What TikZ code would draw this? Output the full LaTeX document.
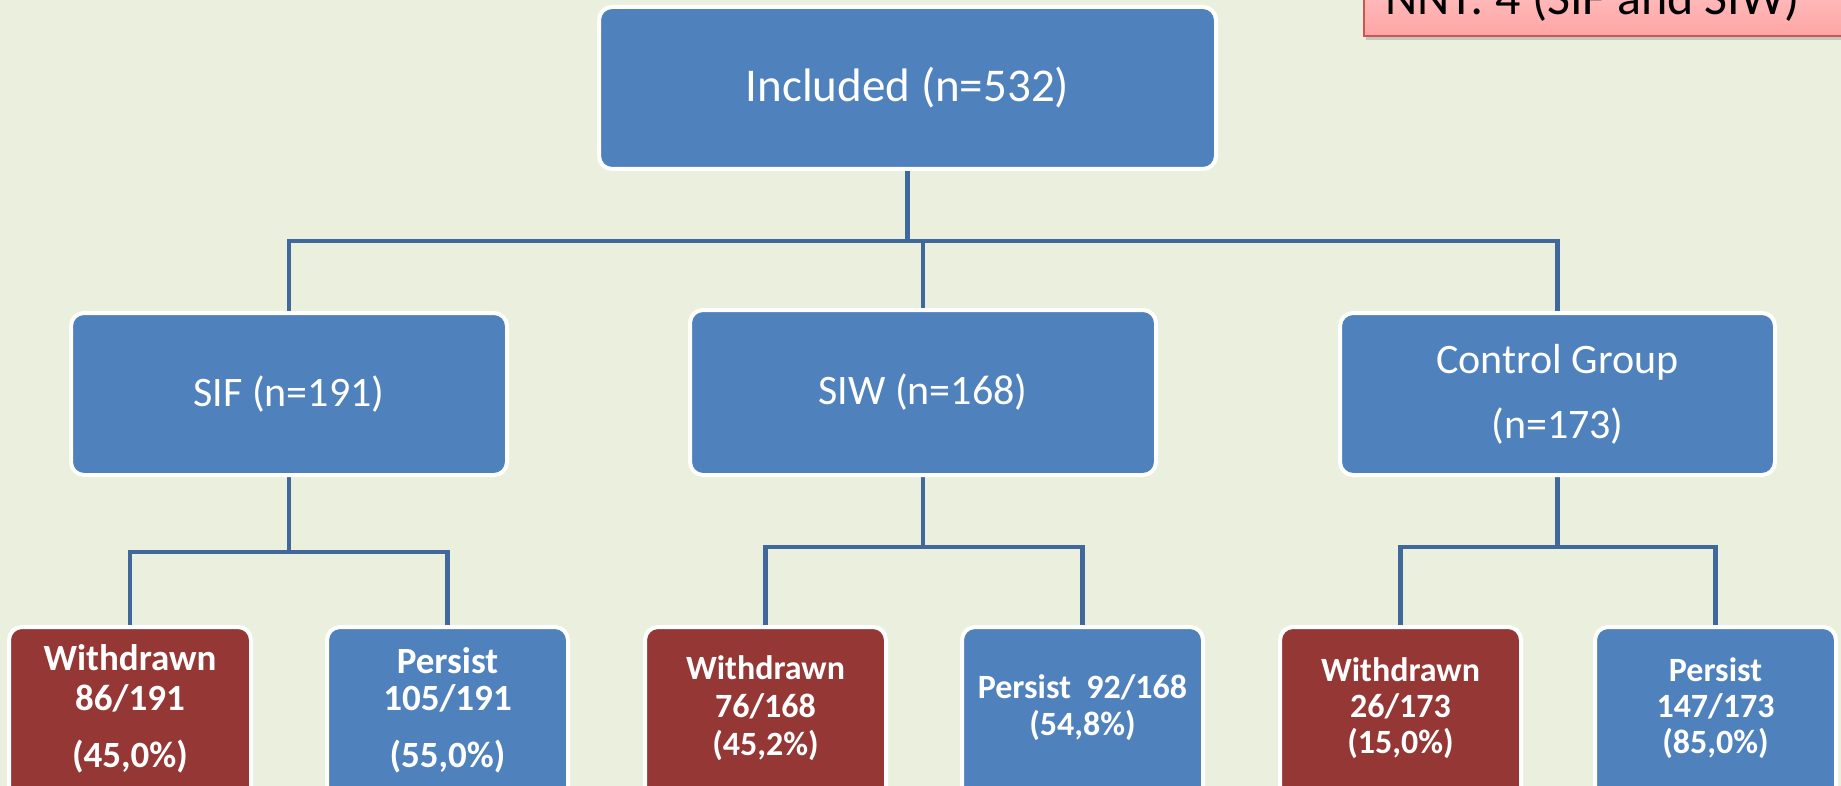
\documentclass[tikz,border=0pt]{standalone}
\usepackage{fontspec}
\setmainfont{Carlito}
\usetikzlibrary{shadows}
\definecolor{bg}{RGB}{235,240,222}
\definecolor{boxblue}{RGB}{79,129,189}
\definecolor{boxred}{RGB}{149,55,53}
\definecolor{conn}{RGB}{65,104,155}
\definecolor{pinktop}{RGB}{255,200,200}
\definecolor{pinkbot}{RGB}{255,165,165}
\definecolor{pinkedge}{RGB}{205,85,82}
\pgfdeclarelayer{bgfill}
\pgfdeclarelayer{links}
\pgfsetlayers{bgfill,links,main}
\begin{document}
\begin{tikzpicture}[x=1pt,y=-1pt,
  box/.style={draw=white, line width=4pt, rounded corners=13pt, inner sep=0pt, text=white, align=center},
  bluebox/.style={box, fill=boxblue},
  redbox/.style={box, fill=boxred},
  link/.style={draw=conn, line width=4.5pt},
  lbl/.style={text=white, align=center, inner sep=0pt, anchor=base},
]
\begin{pgfonlayer}{bgfill}
\fill[bg] (0,0) rectangle (1841,786);
\end{pgfonlayer}
\useasboundingbox (0,0) rectangle (1841,786);

% bus line levels
\coordinate (bus) at (0,241);
\coordinate (busA) at (0,552);
\coordinate (busB) at (0,547);

% boxes
\node[bluebox, minimum width=617pt, minimum height=162pt, font=\fontsize{47}{56}\selectfont] (top) at (907.5,88) {Included (n=532)};
\node[bluebox, minimum width=436pt, minimum height=162pt, font=\fontsize{42}{50}\selectfont] (sif) at (289,394) {SIF (n=191)};
\node[bluebox, minimum width=466pt, minimum height=165pt, font=\fontsize{42}{50}\selectfont] (siw) at (923,392.5) {SIW (n=168)};
\node[bluebox, minimum width=435pt, minimum height=162pt, font=\fontsize{42}{65}\selectfont] (ctl) at (1557.5,394) {Control Group\\(n=173)};

\node[redbox, minimum width=242pt, minimum height=180pt] (w1) at (130,717) {};
\node[bluebox, minimum width=241pt, minimum height=180pt] (p1) at (447.5,717) {};
\node[redbox, minimum width=241pt, minimum height=180pt] (w2) at (765.5,717) {};
\node[bluebox, minimum width=241pt, minimum height=180pt] (p2) at (1082.5,717) {};
\node[redbox, minimum width=241pt, minimum height=180pt] (w3) at (1400.5,717) {};
\node[bluebox, minimum width=241pt, minimum height=180pt] (p3) at (1715.5,717) {};

% connectors (under the boxes)
\begin{pgfonlayer}{links}
\draw[link] (top.south) -- (top.south |- bus);
\draw[link] (sif.north) -- (sif.north |- bus) -- (ctl.north |- bus) -- (ctl.north);
\draw[link] (siw.north) -- (siw.north |- bus);
\draw[link] (sif.south) -- (sif.south |- busA);
\draw[link] (w1.north) -- (w1.north |- busA) -- (p1.north |- busA) -- (p1.north);
\draw[link] (siw.south) -- (siw.south |- busB);
\draw[link] (w2.north) -- (w2.north |- busB) -- (p2.north |- busB) -- (p2.north);
\draw[link] (ctl.south) -- (ctl.south |- busB);
\draw[link] (w3.north) -- (w3.north |- busB) -- (p3.north |- busB) -- (p3.north);
\end{pgfonlayer}

% texts of the outcome boxes (anchor = baseline of the last line)
\node[lbl, font=\bfseries\fontsize{37}{40}\selectfont] (w1t) at (130,767) {Withdrawn\\86/191\\[17pt](45,0\%)};
\node[lbl, font=\bfseries\fontsize{37}{37}\selectfont] (p1t) at (447.5,767) {Persist\\105/191\\[20pt](55,0\%)};
\node[lbl, font=\bfseries\fontsize{34}{38}\selectfont] (w2t) at (765.5,755) {Withdrawn\\76/168\\(45,2\%)};
\node[lbl, font=\bfseries\fontsize{34}{37}\selectfont] (p2t) at (1082.5,735) {Persist\ \ 92/168\\(54,8\%)};
\node[lbl, font=\bfseries\fontsize{34}{36}\selectfont] (w3t) at (1400.5,753) {Withdrawn\\26/173\\(15,0\%)};
\node[lbl, font=\bfseries\fontsize{34}{36}\selectfont] (p3t) at (1715.5,753) {Persist\\147/173\\(85,0\%)};

% NNT box
\node[draw=pinkedge, line width=1.5pt, top color=pinktop, bottom color=pinkbot,
      minimum width=490pt, minimum height=70pt, anchor=south west, inner sep=0pt,
      drop shadow={opacity=0.35, shadow xshift=2pt, shadow yshift=-4pt}] (nntbox) at (1363,37) {};
\node[anchor=base west, inner sep=0pt, font=\fontsize{50}{60}\selectfont] (nnt) at (1385,15) {NNT: 4 (SIF and SIW)};
\end{tikzpicture}
\end{document}
